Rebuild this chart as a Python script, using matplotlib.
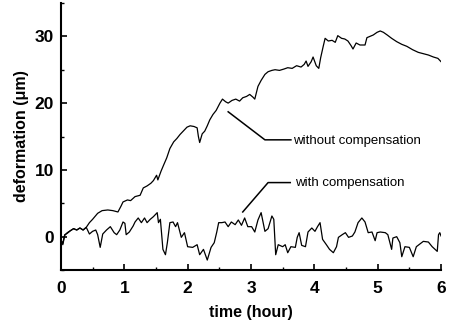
import matplotlib
matplotlib.use("Agg")
import matplotlib.pyplot as plt
from matplotlib.ticker import MultipleLocator

# ── data (time in hours, deformation in µm) ─────────────────────────────────
t_without = [0.0, 0.03, 0.06, 0.1, 0.15, 0.2, 0.25, 0.3, 0.35, 0.4, 0.45, 0.5,
             0.58, 0.65, 0.74, 0.82, 0.9, 0.95, 0.98, 1.05, 1.1, 1.17, 1.25,
             1.3, 1.36, 1.42, 1.46, 1.51, 1.53, 1.58, 1.62, 1.67, 1.72, 1.78,
             1.83, 1.88, 1.93, 1.99, 2.04, 2.1, 2.15, 2.17, 2.19, 2.23, 2.27,
             2.31, 2.35, 2.4, 2.45, 2.51, 2.55, 2.6, 2.64, 2.7, 2.76, 2.82,
             2.87, 2.93, 2.98, 3.03, 3.06, 3.11, 3.16, 3.22, 3.27, 3.33, 3.38,
             3.45, 3.52, 3.58, 3.65, 3.72, 3.79, 3.84, 3.87, 3.9, 3.95, 3.98,
             4.03, 4.07, 4.1, 4.14, 4.17, 4.22, 4.28, 4.33, 4.37, 4.43, 4.48,
             4.53, 4.58, 4.61, 4.66, 4.72, 4.8, 4.83, 4.88, 4.93, 4.99, 5.04,
             5.09, 5.15, 5.22, 5.3, 5.38, 5.46, 5.55, 5.64, 5.72, 5.8, 5.88,
             5.95, 6.0]
v_without = [-0.5, -1.0, 0.3, 0.5, 0.9, 1.2, 1.0, 1.3, 1.0, 1.4, 2.1, 2.6,
             3.5, 3.9, 4.0, 3.9, 3.7, 4.6, 5.2, 5.5, 5.4, 6.0, 6.2,
             7.3, 7.6, 8.0, 8.4, 9.2, 8.5, 9.8, 10.7, 11.8, 13.2, 14.2,
             14.7, 15.3, 15.8, 16.4, 16.6, 16.5, 16.3, 15.0, 14.1, 15.4, 15.8,
             16.6, 17.5, 18.3, 18.9, 20.0, 20.6, 20.2, 20.0, 20.4, 20.6, 20.3,
             20.8, 21.0, 21.3, 20.9, 20.6, 22.5, 23.4, 24.3, 24.7, 24.9, 25.0,
             24.9, 25.1, 25.3, 25.2, 25.6, 25.4, 25.8, 26.3, 25.5, 26.2, 26.9,
             25.6, 25.2, 26.8, 28.5, 29.7, 29.3, 29.4, 29.1, 30.1, 29.7, 29.6,
             29.3, 28.6, 28.1, 29.0, 28.7, 28.7, 29.8, 30.0, 30.2, 30.6, 30.8,
             30.6, 30.2, 29.7, 29.2, 28.8, 28.5, 28.0, 27.6, 27.4, 27.2, 26.9,
             26.7, 26.2]

t_with = [0.0, 0.03, 0.06, 0.1, 0.15, 0.2, 0.25, 0.3, 0.35, 0.4, 0.45, 0.5,
          0.55, 0.58, 0.62, 0.66, 0.72, 0.78, 0.84, 0.88, 0.93, 0.98, 1.01,
          1.03, 1.08, 1.14, 1.17, 1.22, 1.27, 1.32, 1.36, 1.41, 1.46, 1.52,
          1.54, 1.57, 1.61, 1.65, 1.68, 1.72, 1.77, 1.81, 1.84, 1.9, 1.95,
          2.0, 2.08, 2.15, 2.19, 2.25, 2.31, 2.37, 2.42, 2.46, 2.49, 2.54,
          2.59, 2.64, 2.69, 2.75, 2.8, 2.85, 2.9, 2.95, 3.01, 3.06, 3.11,
          3.16, 3.22, 3.27, 3.33, 3.36, 3.39, 3.43, 3.5, 3.54, 3.58, 3.63,
          3.7, 3.73, 3.76, 3.8, 3.86, 3.9, 3.96, 4.01, 4.05, 4.09, 4.13,
          4.19, 4.24, 4.3, 4.35, 4.38, 4.44, 4.49, 4.54, 4.6, 4.64, 4.69,
          4.75, 4.8, 4.85, 4.91, 4.96, 4.99, 5.04, 5.12, 5.16, 5.22, 5.24,
          5.3, 5.35, 5.38, 5.43, 5.5, 5.56, 5.61, 5.72, 5.8, 5.86, 5.94,
          5.96, 5.98, 6.0]
v_with = [-0.5, -1.2, 0.2, 0.6, 0.9, 1.2, 1.0, 1.3, 1.0, 1.4, 0.4, 0.8,
          1.0, 0.3, -1.6, 0.4, 1.0, 1.5, 0.6, 0.3, 1.0, 2.2, 2.0,
          0.3, 0.7, 1.6, 2.2, 2.8, 2.1, 2.8, 2.1, 2.6, 3.0, 3.6,
          2.1, 2.6, -1.9, -2.7, -0.9, 2.1, 2.2, 1.5, 2.1, -0.1, 0.6,
          -1.5, -1.6, -1.2, -2.7, -1.9, -3.5, -1.6, -0.9, 0.7, 2.1, 2.1,
          2.2, 1.5, 2.2, 1.8, 2.5, 1.7, 2.8, 1.5, 1.5, 0.7, 2.5,
          3.6, 0.8, 1.2, 3.1, 2.6, -2.7, -1.2, -1.5, -1.2, -2.4, -1.5,
          -1.6, -0.1, 0.6, -1.3, -1.5, 0.7, 1.3, 0.8, 1.5, 2.1, -0.4,
          -1.2, -1.9, -2.4, -1.5, -0.1, 0.3, 0.6, -0.1, 0.1, 0.7, 2.1,
          2.8, 2.2, 0.6, 0.7, -0.6, 0.6, 0.7, 0.6, 0.3, -1.9, -0.2,
          0.0, -0.9, -3.0, -1.5, -1.6, -3.0, -1.5, -0.7, -0.8, -1.5, -2.2,
          0.3, 0.6, 0.1]

FONT = ["Liberation Sans", "DejaVu Sans"]

plt.rcParams["font.family"] = FONT
fig = plt.figure(figsize=(4.58, 3.25), dpi=100)
ax = fig.add_axes([0.133, 0.169, 0.830, 0.822])

ax.plot(t_without, v_without, color="black", lw=0.9)
ax.plot(t_with, v_with, color="black", lw=0.9)

ax.set_xlim(0, 6)
ax.set_ylim(-5, 35)
ax.xaxis.set_major_locator(MultipleLocator(1))
ax.xaxis.set_minor_locator(MultipleLocator(0.5))
ax.yaxis.set_major_locator(MultipleLocator(10))
ax.yaxis.set_minor_locator(MultipleLocator(5))

for s in ("top", "right"):
    ax.spines[s].set_visible(False)
for s in ("left", "bottom"):
    ax.spines[s].set_linewidth(1.5)

ax.tick_params(which="major", direction="in", length=4, width=1.2,
               labelsize=12.5)
ax.tick_params(axis="x", which="major", pad=8)
ax.tick_params(axis="y", which="major", pad=5)
ax.tick_params(which="minor", direction="in", length=2.5, width=1)
for lab in ax.get_xticklabels() + ax.get_yticklabels():
    lab.set_fontweight("bold")

ax.set_xlabel("time (hour)", fontsize=11.5, fontweight="bold", labelpad=6)
ax.set_ylabel("deformation (\u03bcm)", fontsize=11.5, fontweight="bold",
              labelpad=4)

# leader lines + labels
ax.plot([2.64, 3.22, 3.63], [18.7, 14.5, 14.5], color="black", lw=1.1)
ax.text(3.66, 14.4, "without compensation", fontsize=9.5, va="center")
ax.plot([2.87, 3.27, 3.62], [3.7, 8.1, 8.1], color="black", lw=1.1)
ax.text(3.69, 8.1, "with compensation", fontsize=9.5, va="center")

fig.savefig("out.png", dpi=100)
